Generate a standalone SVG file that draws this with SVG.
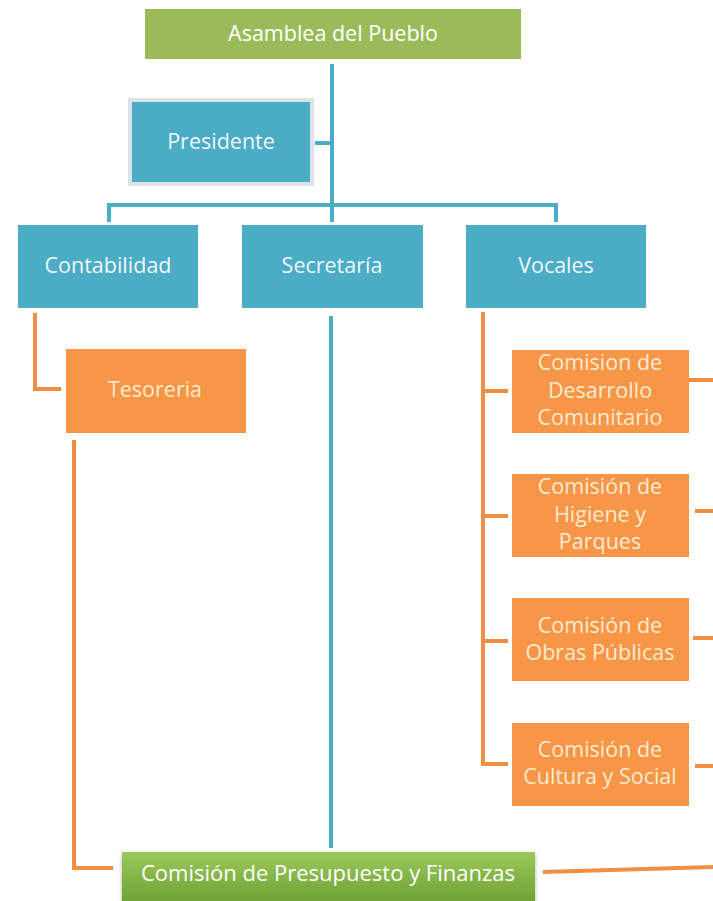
<svg xmlns="http://www.w3.org/2000/svg" width="713" height="901" viewBox="0 0 713 901">
<defs>
<style>
.blue{fill:#4BACC6}
.orange{fill:#F79646}
.t{font-family:"Open Sans","Noto Sans","Liberation Sans",sans-serif;font-size:21.5px;text-anchor:middle}
.tb{fill:#EEF6F9}
.to{fill:#FCEBD2}
.tg{fill:#FFFFFF}
.cb{stroke:#4BACC6;stroke-width:4;fill:none}
.co{stroke:#F28E42;stroke-width:4;fill:none}
</style>
<linearGradient id="gg" x1="0" y1="0" x2="0" y2="1">
<stop offset="0" stop-color="#9CC95B"/>
<stop offset="1" stop-color="#6FA135"/>
</linearGradient>
<filter id="sh" x="-5%" y="-20%" width="110%" height="150%">
<feDropShadow dx="0" dy="2" stdDeviation="2" flood-color="#000" flood-opacity="0.3"/>
</filter>
</defs>
<rect width="713" height="901" fill="#FFFFFF"/>
<g id="connectors">
<path class="cb" d="M332 64 V222"/>
<path class="cb" d="M315 143 H332"/>
<path class="cb" d="M109 222 V205 H556 V222"/>
<path class="cb" d="M331 316 V848"/>
<path class="co" d="M35 313 V389 H61"/>
<path class="co" d="M74 440 V868 H113"/>
<path class="co" d="M483 312 V764 H508"/>
<path class="co" d="M483 391 H508"/>
<path class="co" d="M483 516 H508"/>
<path class="co" d="M483 641 H508"/>
<path class="co" d="M689 380 H713" stroke-width="5" stroke="#EE7A28"/>
<path class="co" d="M695 511 H713"/>
<path class="co" d="M693 638 H713"/>
<path class="co" d="M695 766 H713"/>
<path class="co" d="M543 872 L713 867"/>
</g>
<g id="asamblea">
<rect x="145" y="9" width="376" height="50" fill="#9BBB59"/>
<text class="t tg" x="333" y="41">Asamblea del Pueblo</text>
</g>
<g id="presidente">
<rect x="130" y="100" width="182" height="84" class="blue" stroke="#DCE4E8" stroke-width="4"/>
<text class="t tb" x="221" y="149">Presidente</text>
</g>
<g id="contabilidad">
<rect x="18" y="225" width="180" height="83" class="blue"/>
<text class="t tb" x="108" y="273">Contabilidad</text>
</g>
<g id="secretaria">
<rect x="242" y="225" width="181" height="83" class="blue"/>
<text class="t tb" x="332" y="273">Secretaría</text>
</g>
<g id="vocales">
<rect x="466" y="225" width="180" height="83" class="blue"/>
<text class="t tb" x="556" y="273">Vocales</text>
</g>
<g id="tesoreria">
<rect x="66" y="349" width="180" height="84" class="orange"/>
<text class="t to" x="155" y="397">Tesoreria</text>
</g>
<g id="desarrollo">
<rect x="512" y="350" width="177" height="83" class="orange"/>
<text class="t to" x="600" y="370">Comision de</text>
<text class="t to" x="600" y="398">Desarrollo</text>
<text class="t to" x="600" y="425">Comunitario</text>
</g>
<g id="higiene">
<rect x="512" y="474" width="177" height="83" class="orange"/>
<text class="t to" x="600" y="494">Comisión de</text>
<text class="t to" x="600" y="522">Higiene y</text>
<text class="t to" x="600" y="549">Parques</text>
</g>
<g id="obras">
<rect x="512" y="598" width="177" height="83" class="orange"/>
<text class="t to" x="600" y="633">Comisión de</text>
<text class="t to" x="600" y="660">Obras Públicas</text>
</g>
<g id="cultura">
<rect x="512" y="723" width="177" height="83" class="orange"/>
<text class="t to" x="600" y="757">Comisión de</text>
<text class="t to" x="600" y="784">Cultura y Social</text>
</g>
<g id="presupuesto">
<rect x="122" y="852" width="413" height="50" fill="url(#gg)" filter="url(#sh)"/>
<text class="t tg" x="328" y="881" style="font-size:22px">Comisión de Presupuesto y Finanzas</text>
</g>
</svg>
